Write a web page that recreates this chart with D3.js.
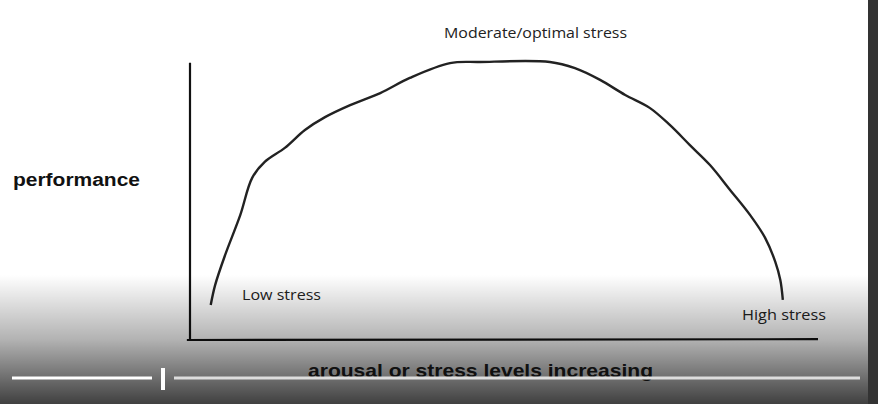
<!DOCTYPE html>
<html><head><meta charset="utf-8">
<script src="https://cdn.jsdelivr.net/npm/d3@7"></script>
<style>body{margin:0;background:#fff}svg{display:block}</style>
</head><body>
<script>
const stress = [3.3,4.0,5.6,8.0,9.9,11.9,15.1,18.3,21.5,25.5,30.3,35.0,41.4,46.2,57.3,61.3,65.3,69.3,73.2,76.4,79.6,82.8,86.0,89.2,91.6,93.2,94.0,94.4];
const performance = [12.5,19.6,30.4,44.6,57.9,63.6,68.6,75.0,79.6,83.9,88.2,93.6,98.9,99.3,99.3,97.1,92.9,87.5,82.9,76.8,69.6,62.5,53.6,44.6,36.4,27.9,21.4,14.3];
const labels = ["Low stress","Moderate/optimal stress","High stress"];
const yTitle = "performance";
const xTitle = "arousal or stress levels increasing";

const W=878,H=404;
const svg=d3.select("body").append("svg").attr("width",W).attr("height",H);
const x=d3.scaleLinear().domain([0,100]).range([190,818]);
const y=d3.scaleLinear().domain([0,100]).range([340,60]);
svg.append("rect").attr("width",W).attr("height",H).attr("fill","#fff");
svg.append("path").attr("d",`M${x(0)},${y(99)}L${x(0)},${y(0)}`).attr("stroke","#111").attr("stroke-width",2.2).attr("fill","none");
svg.append("path").attr("d",`M${x(-0.5)},${y(0)}L${x(100)},${y(0.3)}`).attr("stroke","#111").attr("stroke-width",2.2).attr("fill","none");
const line=d3.line().x((d,i)=>x(stress[i])).y(d=>y(d)).curve(d3.curveCatmullRom);
svg.append("path").attr("d",line(performance)).attr("stroke","#222").attr("stroke-width",2.4).attr("fill","none");
const f="'Open Sans', Lato, sans-serif";
function t(s,xx,yy,size,len,bold,fam,fill){
  svg.append("text").attr("x",xx).attr("y",yy).attr("font-family",fam||f).attr("font-size",size)
   .attr("font-weight",bold?"bold":"normal").attr("fill",fill||"#222")
   .attr("textLength",len).attr("lengthAdjust","spacingAndGlyphs").text(s);
}
t(labels[1],444,38,15,183);
t(labels[0],242,300,15,79);
t(labels[2],742,320,15,84);
t(yTitle,13,186,18,127,true,"'Liberation Sans', Arial, sans-serif","#111");
t(xTitle,308,377,19,345,true,"'Liberation Sans', Arial, sans-serif","#222");
const g=svg.append("defs").append("linearGradient").attr("id","ov").attr("x1",0).attr("x2",0).attr("y1",0).attr("y2",1);
g.append("stop").attr("offset",0).attr("stop-color","#000").attr("stop-opacity",0);
g.append("stop").attr("offset",0.5).attr("stop-color","#000").attr("stop-opacity",0.3);
g.append("stop").attr("offset",1).attr("stop-color","#000").attr("stop-opacity",0.75);
svg.append("rect").attr("x",0).attr("y",275).attr("width",W).attr("height",129).attr("fill","url(#ov)");
svg.append("rect").attr("x",868).attr("y",0).attr("width",10).attr("height",H).attr("fill","#333");
svg.append("line").attr("x1",12).attr("x2",152).attr("y1",378).attr("y2",378).attr("stroke","#fff").attr("stroke-width",3);
svg.append("line").attr("x1",163).attr("x2",163).attr("y1",368).attr("y2",390).attr("stroke","#fff").attr("stroke-width",4);
svg.append("line").attr("x1",174).attr("x2",860).attr("y1",378).attr("y2",378).attr("stroke","#ddd").attr("stroke-width",3);
</script>
</body></html>
